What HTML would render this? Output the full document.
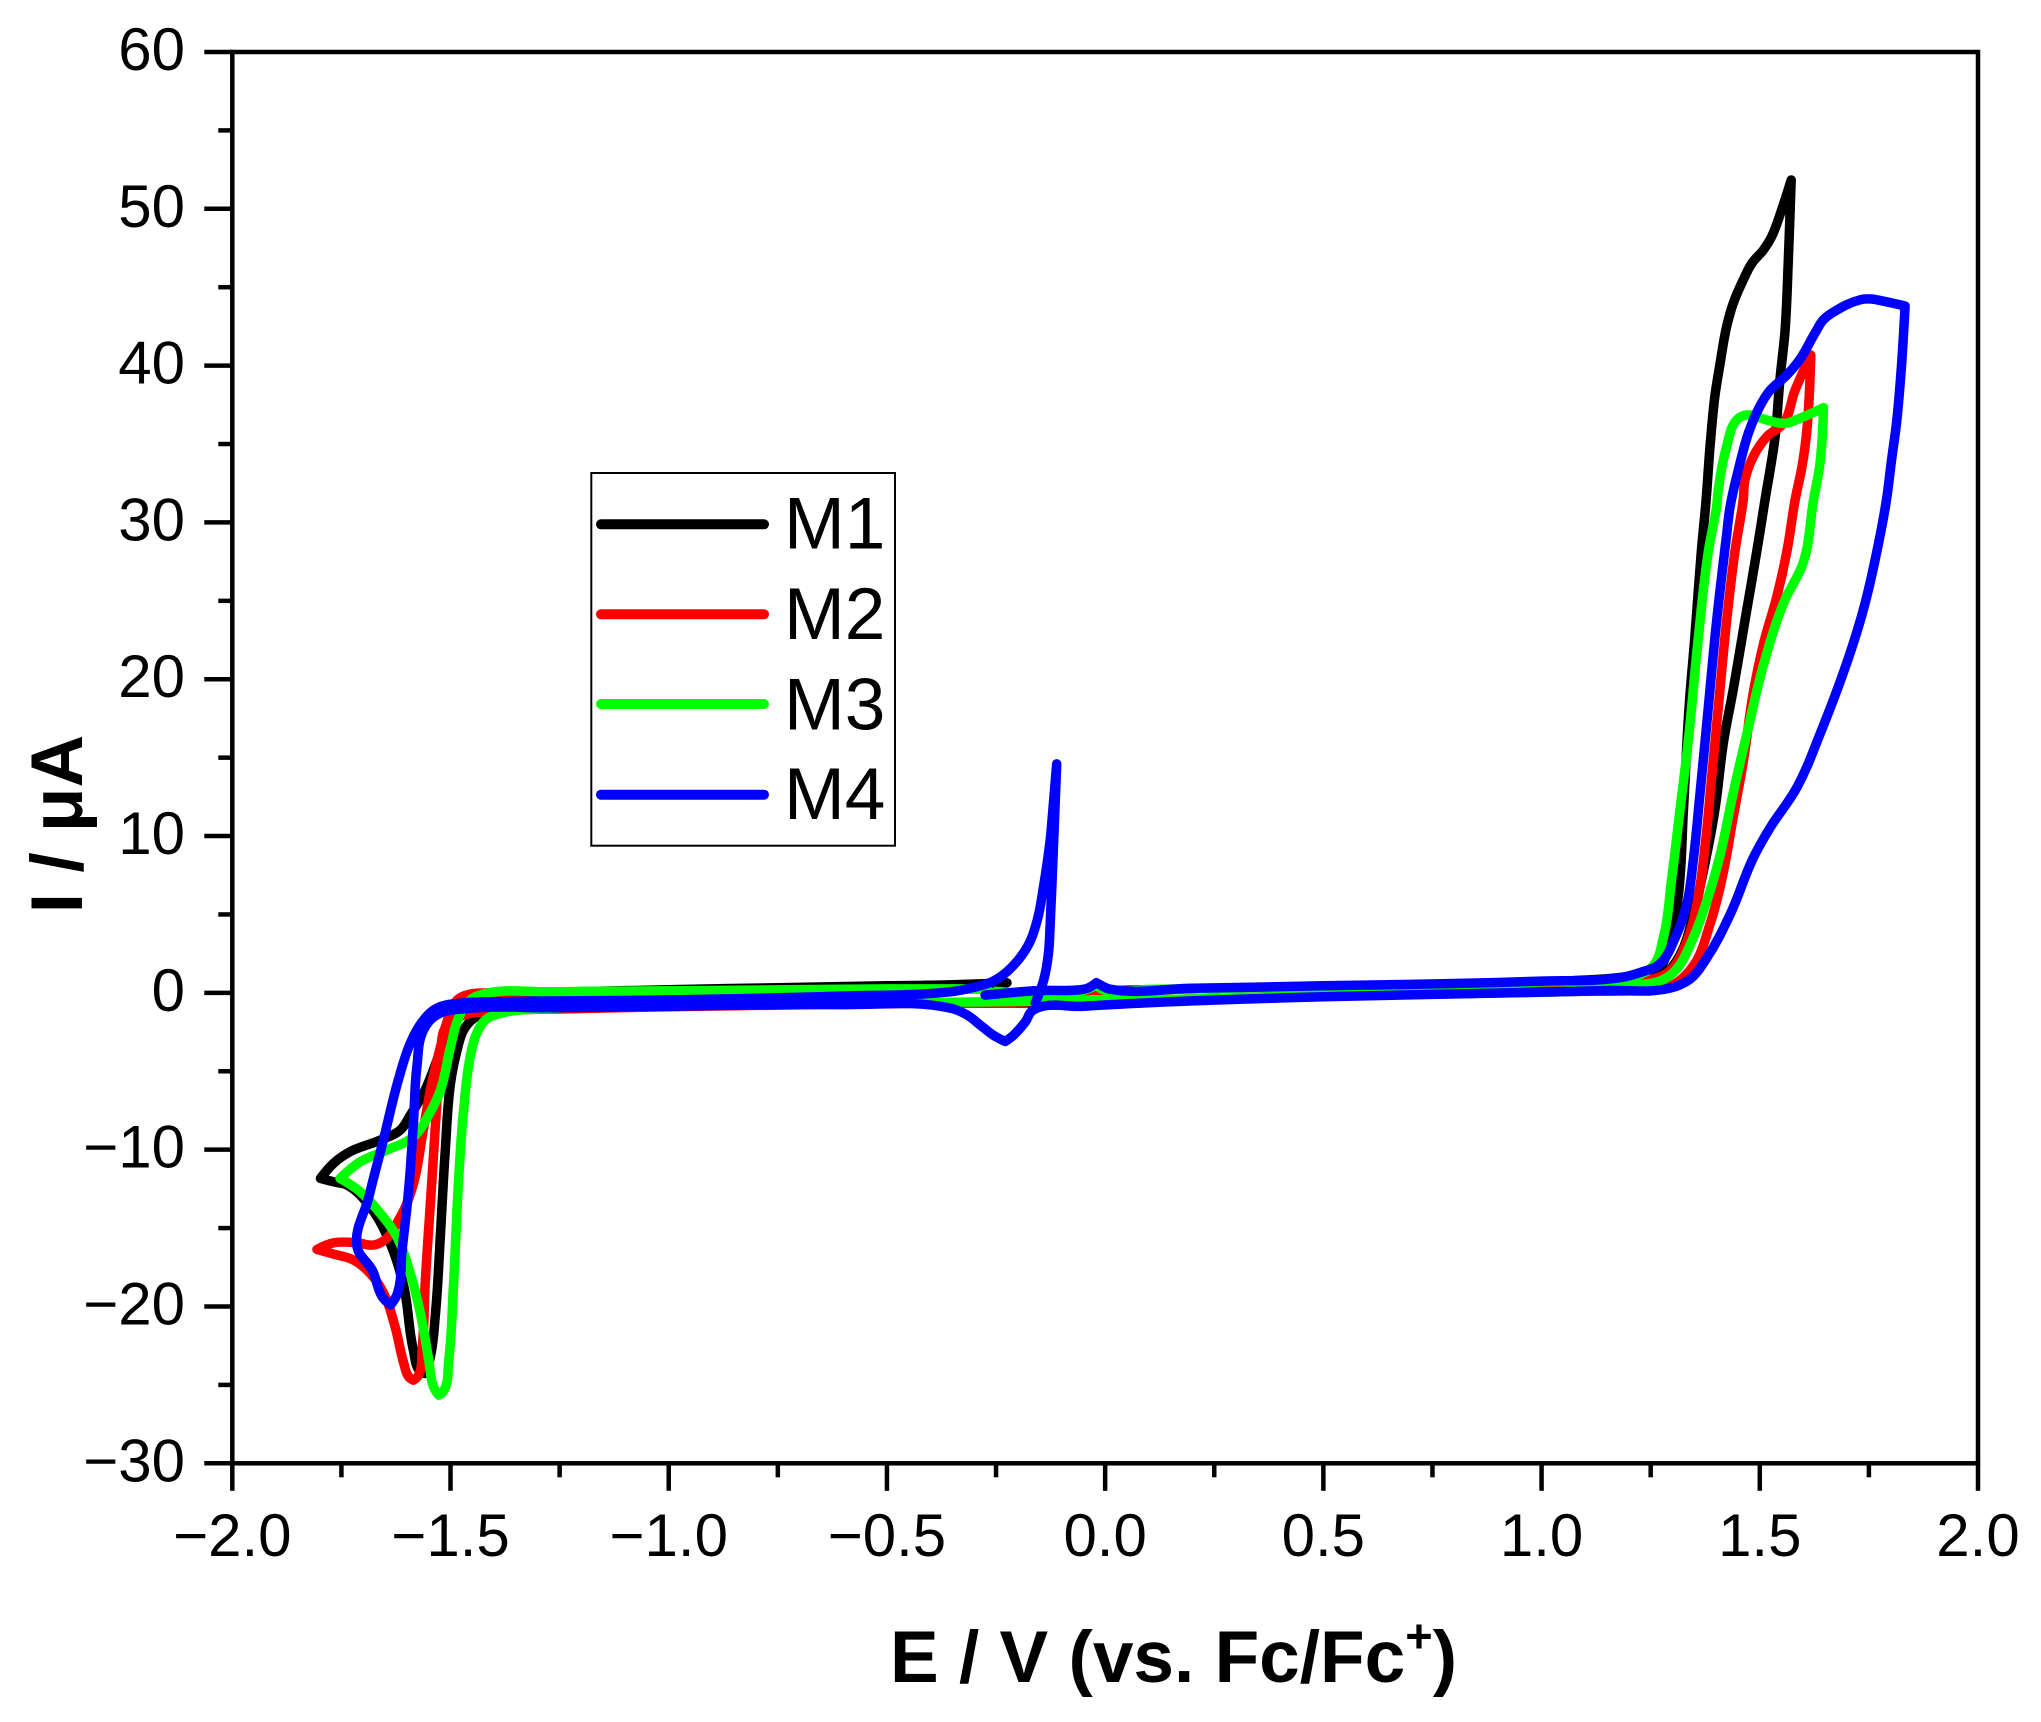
<!DOCTYPE html>
<html lang="en">
<head>
<meta charset="utf-8">
<title>Cyclic voltammograms M1-M4</title>
<style>
html,body{margin:0;padding:0;background:#fff;}
svg{display:block;}
text{font-family:"Liberation Sans",Arial,sans-serif;fill:#000;}
</style>
</head>
<body>
<svg id="chart" xmlns="http://www.w3.org/2000/svg" width="2041" height="1722" viewBox="0 0 2041 1722">
  <rect x="0" y="0" width="2041" height="1722" fill="#fff"/>
  <g id="curves" fill="none" stroke-linejoin="round" stroke-linecap="round"></g>
  <rect x="232.3" y="52" width="1745.7" height="1411.3" fill="none" stroke="#000" stroke-width="4.5"/>
  <g id="ticks" stroke="#000" stroke-width="4.5"></g>
  <g id="tick-labels" font-size="60"></g>
  <text transform="translate(82,824) rotate(-90)" text-anchor="middle" font-size="73" font-weight="bold">I / μA</text>
  <text x="890" y="1682" font-size="73" font-weight="bold">E / V (vs. Fc/Fc<tspan font-size="47" dy="-30">+</tspan><tspan dy="30">)</tspan></text>
  <g id="legend">
    <rect x="591.3" y="473" width="303.7" height="372.7" fill="#fff" stroke="#000" stroke-width="2"/>
  </g>
</svg>
<script>
var xMajorTicks = [-2, -1.5, -1, -0.5, 0, 0.5, 1, 1.5, 2];
var xMinorTicks = [-1.75, -1.25, -0.75, -0.25, 0.25, 0.75, 1.25, 1.75];
var xTickLabels = ['−2.0', '−1.5', '−1.0', '−0.5', '0.0', '0.5', '1.0', '1.5', '2.0'];
var yMajorTicks = [-30, -20, -10, 0, 10, 20, 30, 40, 50, 60];
var yMinorTicks = [-25, -15, -5, 5, 15, 25, 35, 45, 55];
var yTickLabels = ['−30', '−20', '−10', '0', '10', '20', '30', '40', '50', '60'];
var seriesNames = ['M1', 'M2', 'M3', 'M4'];
var seriesColors = ['#000000', '#ff0000', '#00ff00', '#0000ff'];

var m1Potential = [-0.225,-0.35,-0.5,-0.75,-1.0,-1.2,-1.35,-1.409,-1.455,-1.485,-1.508,-1.531,-1.562,-1.592,-1.615,-1.661,-1.73,-1.768,-1.798,-1.768,-1.737,-1.684,-1.638,-1.607,-1.585,-1.569,-1.558,-1.546,-1.535,-1.523,-1.512,-1.5,-1.485,-1.47,-1.447,-1.432,-1.38,-1.2,-0.8,-0.4,-0.1,0.1,0.5,0.9,1.1,1.2,1.241,1.279,1.317,1.348,1.375,1.397,1.417,1.439,1.466,1.493,1.512,1.535,1.546,1.558,1.565,1.572,1.55,1.527,1.508,1.482,1.462,1.439,1.424,1.409,1.397,1.386,1.377,1.366,1.351,1.338,1.325,1.313,1.294,1.264,1.214,1.0,0.5,0.1,-0.1];
var m1Current = [0.65,0.52,0.45,0.33,0.2,0.08,0.02,-0.03,-0.35,-0.99,-2.37,-4.29,-6.41,-7.79,-8.75,-9.39,-10.13,-10.87,-11.83,-12.05,-12.26,-13.64,-15.98,-18.74,-22.78,-24.16,-24.27,-23.2,-20.66,-15.34,-10.03,-5.77,-3.65,-2.37,-1.63,-1.42,-1.1,-0.85,-0.7,-0.65,-0.62,-0.5,-0.2,0.02,0.15,0.4,0.53,1.08,2.4,5.04,8.34,11.64,16.03,19.33,23.73,28.13,31.43,35.47,39.08,42.27,46.53,51.84,49.92,48.22,47.37,46.53,45.46,43.97,42.48,40.15,38.02,34.83,31.43,28.13,22.63,18.23,11.64,6.14,3.28,1.41,1.1,0.7,0.42,0.2,0.1];

var m2Potential = [-0.27,-0.5,-0.9,-1.2,-1.417,-1.455,-1.485,-1.504,-1.523,-1.543,-1.565,-1.581,-1.6,-1.619,-1.646,-1.676,-1.714,-1.768,-1.806,-1.768,-1.722,-1.684,-1.653,-1.627,-1.607,-1.596,-1.585,-1.573,-1.565,-1.558,-1.543,-1.531,-1.523,-1.508,-1.47,-1.417,-1.2,-0.8,-0.4,-0.1,0.1,0.5,0.9,1.1,1.24,1.302,1.348,1.386,1.413,1.439,1.462,1.485,1.508,1.539,1.562,1.581,1.597,1.608,1.617,1.581,1.554,1.516,1.485,1.466,1.462,1.443,1.424,1.405,1.39,1.375,1.359,1.333,1.294,1.256,1.2,1.0,0.5,0.1,-0.1];
var m2Current = [0.25,0.2,0.12,0.05,0,-0.08,-0.46,-1.52,-3.44,-5.77,-9.18,-11.73,-13.43,-14.49,-15.66,-16.08,-15.94,-15.94,-16.36,-16.66,-17.04,-17.89,-19.16,-21.3,-23.63,-24.48,-24.7,-24.37,-22.78,-18.53,-12.15,-6.84,-3.65,-2.05,-1.42,-1.2,-1.0,-0.8,-0.65,-0.55,-0.45,-0.2,0.0,0.1,0.2,0.53,1.74,4.38,7.24,11.2,14.72,19.11,22.2,25.27,28.13,31.43,33.6,35.9,40.68,38.44,36.32,35.47,34.19,32.7,31.43,28.13,23.73,18.23,13.84,9.45,6.14,3.28,1.4,0.9,0.8,0.65,0.4,0.2,0.1];

var m3Potential = [-0.27,-0.5,-0.9,-1.271,-1.417,-1.455,-1.482,-1.5,-1.523,-1.55,-1.585,-1.646,-1.707,-1.753,-1.707,-1.661,-1.623,-1.592,-1.569,-1.55,-1.539,-1.527,-1.516,-1.504,-1.493,-1.482,-1.47,-1.455,-1.44,-1.42,-1.386,-1.271,-0.9,-0.5,-0.2,0.1,0.5,0.9,1.1,1.2,1.271,1.306,1.344,1.382,1.409,1.439,1.47,1.508,1.554,1.6,1.623,1.638,1.646,1.592,1.558,1.516,1.47,1.447,1.424,1.405,1.401,1.382,1.359,1.336,1.317,1.298,1.279,1.256,1.218,1.0,0.5,0.1,-0.005,-0.02,-0.05,-0.25];
var m3Current = [0.25,0.25,0.15,0.07,-0.03,-0.46,-1.63,-3.44,-6.2,-7.79,-9.18,-10.03,-10.77,-11.83,-12.68,-14.06,-15.55,-17.9,-20.44,-23.4,-25.12,-25.65,-25.4,-23.4,-18.53,-12.15,-7.47,-4.07,-2.58,-1.73,-1.31,-0.99,-0.8,-0.65,-0.55,-0.45,-0.2,0.0,0.15,0.5,0.75,1.41,3.28,6.14,8.78,12.73,16.47,20.87,24.83,27.47,31.43,33.77,37.32,36.64,36.32,36.53,36.85,36.53,34.83,32.07,31.0,28.13,22.63,16.03,11.64,7.24,3.5,1.74,1.1,0.7,0.4,0.22,0.2,0.5,0.15,0.1];

var m4Potential = [-0.275,-0.15,-0.064,-0.04,-0.02,0.0,0.01,0.2,0.5,0.8,1.0,1.18,1.226,1.271,1.306,1.333,1.347,1.363,1.382,1.401,1.424,1.432,1.455,1.474,1.5,1.523,1.562,1.592,1.627,1.645,1.668,1.73,1.756,1.768,1.833,1.825,1.814,1.801,1.79,1.768,1.737,1.7,1.638,1.585,1.523,1.485,1.432,1.378,1.34,1.294,1.15,1.0,0.5,0.149,-0.05,-0.165,-0.183,-0.21,-0.229,-0.256,-0.282,-0.317,-0.355,-0.6,-1.0,-1.27,-1.45,-1.531,-1.562,-1.577,-1.585,-1.596,-1.611,-1.622,-1.637,-1.656,-1.679,-1.714,-1.687,-1.654,-1.62,-1.592,-1.565,-1.531,-1.477,-1.386,-1.0,-0.6,-0.355,-0.31,-0.26,-0.225,-0.179,-0.156,-0.141,-0.126,-0.118,-0.111,-0.118,-0.126,-0.13,-0.141,-0.16];
var m4Current = [-0.14,0.15,0.18,0.3,0.65,0.35,0.24,0.3,0.45,0.6,0.75,0.97,1.3,1.85,3.5,5.7,8.3,12.7,18.2,23.7,29.2,31.0,33.8,35.7,37.4,38.4,39.4,40.4,42.1,42.9,43.4,44.2,44.25,44.2,43.8,40.1,36.5,33.8,31.4,28.1,24.4,21.1,16.5,13.1,10.5,8.6,5.0,2.2,0.88,0.3,0.15,0.05,-0.25,-0.57,-0.85,-1.1,-1.85,-2.7,-3.1,-2.7,-2.15,-1.4,-0.97,-0.75,-0.85,-0.95,-0.98,-1.4,-2.37,-4.7,-8.3,-12.6,-16.4,-19.2,-19.9,-19.4,-17.7,-16.2,-13.0,-9.4,-5.6,-3.2,-1.85,-0.97,-0.65,-0.57,-0.45,-0.2,0.07,0.3,0.7,1.35,2.9,4.6,6.8,9.75,12.3,14.6,9.7,4.4,2.5,0.8,-0.65];

var seriesPotentials = [m1Potential, m2Potential, m3Potential, m4Potential];
var seriesCurrents = [m1Current, m2Current, m3Current, m4Current];

var SVG_NS = 'http://www.w3.org/2000/svg';
var plot = {left: 232.3, right: 1978, top: 52, bottom: 1463.3};
var xDomain = [-2, 2];
var yDomain = [-30, 60];

function xScale(v) {
  return plot.left + (v - xDomain[0]) / (xDomain[1] - xDomain[0]) * (plot.right - plot.left);
}
function yScale(v) {
  return plot.bottom - (v - yDomain[0]) / (yDomain[1] - yDomain[0]) * (plot.bottom - plot.top);
}
function addLine(parent, x1, y1, x2, y2) {
  var l = document.createElementNS(SVG_NS, 'line');
  l.setAttribute('x1', x1);
  l.setAttribute('y1', y1);
  l.setAttribute('x2', x2);
  l.setAttribute('y2', y2);
  parent.appendChild(l);
  return l;
}
function addText(parent, x, y, anchor, str) {
  var t = document.createElementNS(SVG_NS, 'text');
  t.setAttribute('x', x);
  t.setAttribute('y', y);
  t.setAttribute('text-anchor', anchor);
  t.textContent = str;
  parent.appendChild(t);
  return t;
}
/* Smooth curve through the scaled points; reversal corners stay sharp. */
function smoothPath(pts) {
  var n = pts.length;
  var tan = [];
  for (var i = 0; i < n; i++) {
    if (i === 0 || i === n - 1) { tan.push([0, 0]); continue; }
    var ax = pts[i][0] - pts[i - 1][0], ay = pts[i][1] - pts[i - 1][1];
    var bx = pts[i + 1][0] - pts[i][0], by = pts[i + 1][1] - pts[i][1];
    var da = Math.hypot(ax, ay) || 1, db = Math.hypot(bx, by) || 1;
    var cos = (ax * bx + ay * by) / (da * db);
    if (cos < 0.55) { tan.push([0, 0]); continue; }
    var tx = ax / da + bx / db, ty = ay / da + by / db;
    var tl = Math.hypot(tx, ty) || 1;
    tan.push([tx / tl, ty / tl]);
  }
  var d = 'M' + pts[0][0].toFixed(1) + ' ' + pts[0][1].toFixed(1);
  for (var j = 0; j < n - 1; j++) {
    var seg = Math.hypot(pts[j + 1][0] - pts[j][0], pts[j + 1][1] - pts[j][1]);
    var h = seg * 0.36;
    d += 'C' + (pts[j][0] + tan[j][0] * h).toFixed(1) + ' ' + (pts[j][1] + tan[j][1] * h).toFixed(1) +
         ' ' + (pts[j + 1][0] - tan[j + 1][0] * h).toFixed(1) + ' ' + (pts[j + 1][1] - tan[j + 1][1] * h).toFixed(1) +
         ' ' + pts[j + 1][0].toFixed(1) + ' ' + pts[j + 1][1].toFixed(1);
  }
  return d;
}

var ticksG = document.getElementById('ticks');
var labelsG = document.getElementById('tick-labels');
xMajorTicks.forEach(function (v, i) {
  var l = addLine(ticksG, xScale(v), plot.bottom, xScale(v), plot.bottom + 27.5);
  
  
  var t = addText(labelsG, xScale(v), 1556, 'middle', xTickLabels[i]);
  
  
});
xMinorTicks.forEach(function (v) {
  var l = addLine(ticksG, xScale(v), plot.bottom, xScale(v), plot.bottom + 14);
  
  
});
yMajorTicks.forEach(function (v, i) {
  var l = addLine(ticksG, plot.left - 28, yScale(v), plot.left, yScale(v));
  
  
  var t = addText(labelsG, 185, yScale(v) + 18, 'end', yTickLabels[i]);
  
  
});
yMinorTicks.forEach(function (v) {
  var l = addLine(ticksG, plot.left - 14, yScale(v), plot.left, yScale(v));
  
  
});

var curvesG = document.getElementById('curves');
seriesNames.forEach(function (name, s) {
  var pts = seriesPotentials[s].map(function (e, i) {
    return [xScale(e), yScale(seriesCurrents[s][i])];
  });
  var p = document.createElementNS(SVG_NS, 'path');
  p.setAttribute('d', smoothPath(pts));
  p.setAttribute('stroke', seriesColors[s]);
  p.setAttribute('stroke-width', '9.5');
  
  
  curvesG.appendChild(p);
});

var legendG = document.getElementById('legend');
var legendLineY = [524.3, 614.3, 704, 794.7];
var legendTextY = [548.3, 639, 729.3, 819];
seriesNames.forEach(function (name, s) {
  var l = addLine(legendG, 601, legendLineY[s], 764, legendLineY[s]);
  l.setAttribute('stroke', seriesColors[s]);
  l.setAttribute('stroke-width', '10');
  l.setAttribute('stroke-linecap', 'round');
  
  
  var t = addText(legendG, 784, legendTextY[s], 'start', name);
  t.setAttribute('font-size', '73');
  
  
});
</script>
</body>
</html>
